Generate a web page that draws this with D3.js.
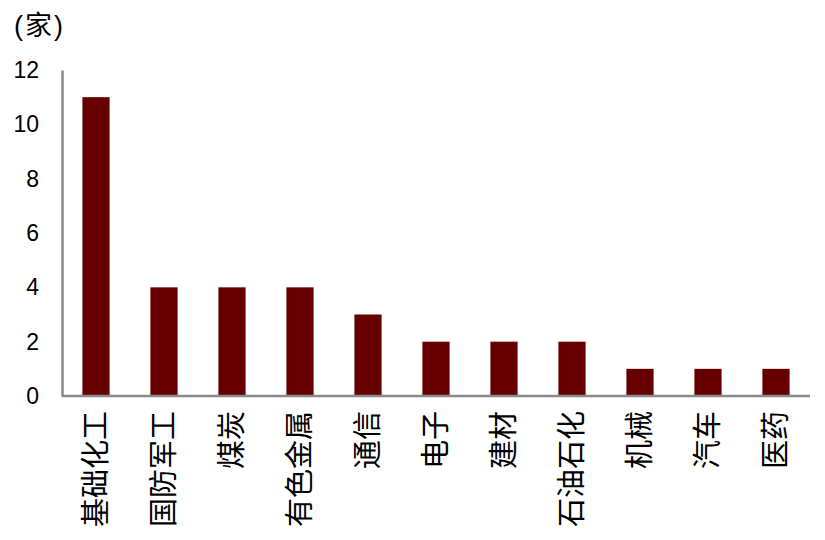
<!DOCTYPE html>
<html><head><meta charset="utf-8">
<script src="https://cdn.jsdelivr.net/npm/d3@7"></script>
<style>body{margin:0;background:#fff}svg{display:block}text{font-family:"Liberation Sans","Noto Sans CJK SC",sans-serif;fill:#000}</style>
</head><body><svg id="c" width="825" height="540"></svg>
<script>
const categories = ["基础化工","国防军工","煤炭","有色金属","通信","电子","建材","石油石化","机械","汽车","医药"];
const values = [11,4,4,4,3,2,2,2,1,1,1];
const yTicks = [0,2,4,6,8,10,12];
const unitLabel = "(家)";

const svg = d3.select("#c");
const x = d3.scaleBand().domain(categories).range([62,810]).paddingInner(0.6).paddingOuter(0.3);
const y = d3.scaleLinear().domain([0,12]).range([396,70]);

svg.selectAll("rect.bar").data(values).join("rect")
  .attr("x",(d,i)=>x(categories[i])).attr("width",x.bandwidth())
  .attr("y",d=>y(d)).attr("height",d=>y(0)-y(d)).attr("fill","#660000");

const ya = svg.append("g").attr("transform","translate(62,0)")
  .call(d3.axisLeft(y).tickValues(yTicks).tickSize(0).tickPadding(23));
ya.select(".domain").attr("stroke","#898989").attr("stroke-width",2.5);
ya.selectAll("text").attr("font-size",23).style("font-family",'"Liberation Sans",sans-serif');

const xa = svg.append("g").attr("transform","translate(0,396)")
  .call(d3.axisBottom(x).tickSize(0).tickSizeOuter(0));
xa.select(".domain").attr("stroke","#898989").attr("stroke-width",2.5).attr("d","M62,0H810");
xa.selectAll("text").attr("font-size",29).attr("text-anchor","end")
  .attr("dy","0.35em").attr("y",0)
  .attr("transform","translate(0,15) rotate(-90)")
  .attr("x",0);

svg.append("text").attr("x",14).attr("y",35).attr("font-size",27).attr("letter-spacing",2).text(unitLabel);
</script></body></html>
